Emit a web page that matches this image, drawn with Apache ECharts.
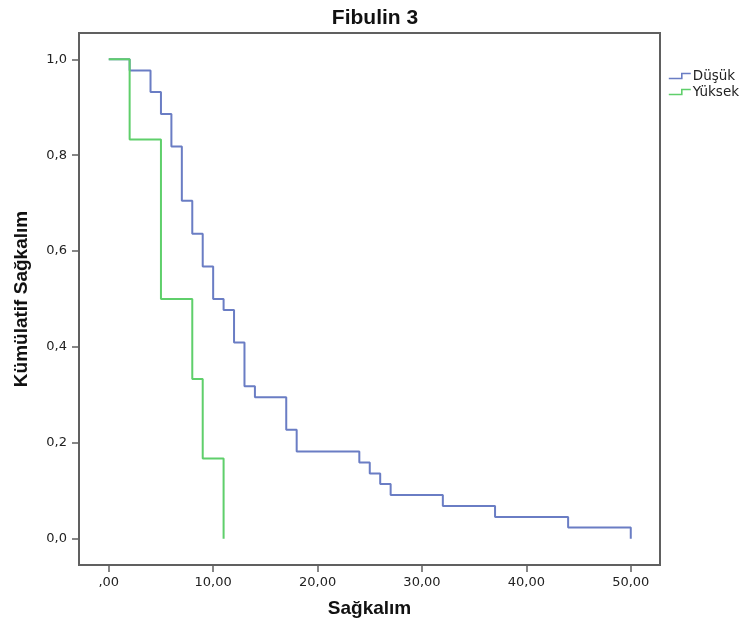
<!DOCTYPE html>
<html>
<head>
<meta charset="utf-8">
<script src="https://cdn.jsdelivr.net/npm/echarts@6/dist/echarts.min.js"></script>
<style>
html,body{margin:0;padding:0;background:#fff;}
#chart{width:746px;height:627px;}
</style>
</head>
<body>
<div id="chart"></div>
<script>
// ---- data ----
const titleText = 'Fibulin 3';
const xAxisName = 'Sağkalım';
const yAxisName = 'Kümülatif Sağkalım';
const seriesNames = ['Düşük', 'Yüksek'];

// Düşük group: Kaplan-Meier steps (time, cumulative survival)
const lowTimes = [0, 2, 4, 5, 6, 7, 8, 9, 10, 11, 12, 13, 14, 17, 18, 24, 25, 26, 27, 32, 37, 44, 50];
const lowSurv  = [1, 0.977, 0.932, 0.886, 0.818, 0.705, 0.636, 0.568, 0.5, 0.477, 0.409, 0.318, 0.295, 0.227, 0.182, 0.159, 0.136, 0.114, 0.091, 0.068, 0.045, 0.023, 0];

// Yüksek group
const highTimes = [0, 2, 5, 8, 9, 11];
const highSurv  = [1, 0.833, 0.5, 0.333, 0.167, 0];

// tick values and labels
const xTicks = [0, 10, 20, 30, 40, 50];
const xTickLabels = [',00', '10,00', '20,00', '30,00', '40,00', '50,00'];
const yTicks = [0, 0.2, 0.4, 0.6, 0.8, 1.0];
const yTickLabels = ['0,0', '0,2', '0,4', '0,6', '0,8', '1,0'];

// ---- chart ----
const blue = '#6a7dc4';
const green = '#5fcf6b';
const axisColor = '#606060';

function labelFor(ticks, labels, v) {
  for (let i = 0; i < ticks.length; i++) {
    if (Math.abs(ticks[i] - v) < 1e-6) return labels[i];
  }
  return '';
}

const chart = echarts.init(document.getElementById('chart'), null, {renderer: 'canvas'});
const stepIcon = 'path://M0,5 L13,5 L13,0 L22,0';

chart.setOption({
  animation: false,
  backgroundColor: '#ffffff',
  title: {
    text: titleText,
    left: 370,
    top: 3,
    textAlign: 'center',
    textStyle: {fontFamily: 'Liberation Sans', fontWeight: 'bold', fontSize: 21, color: '#111'}
  },
  legend: {
    orient: 'vertical',
    left: 663,
    top: 64,
    itemWidth: 22,
    itemHeight: 5,
    itemGap: 2,
    selectedMode: false,
    textStyle: {fontFamily: 'DejaVu Sans', fontSize: 13.5, color: '#222', lineHeight: 14, padding: [0, 0, 0, -3]},
    data: [
      {name: seriesNames[0], icon: stepIcon, itemStyle: {color: 'rgba(0,0,0,0)', borderColor: blue, borderWidth: 1.6}},
      {name: seriesNames[1], icon: stepIcon, itemStyle: {color: 'rgba(0,0,0,0)', borderColor: green, borderWidth: 1.6}}
    ]
  },
  grid: {
    left: 79, right: 86, top: 33, bottom: 62,
    show: true,
    borderColor: axisColor,
    borderWidth: 2,
    containLabel: false
  },
  xAxis: {
    type: 'value',
    min: -2.85,
    max: 52.8,
    name: xAxisName,
    nameLocation: 'middle',
    nameGap: 34,
    nameTextStyle: {fontFamily: 'Liberation Sans', fontWeight: 'bold', fontSize: 19, color: '#111'},
    axisLine: {show: true, onZero: false, lineStyle: {color: axisColor, width: 2}},
    axisTick: {show: true, inside: false, length: 7, customValues: xTicks, lineStyle: {color: axisColor, width: 1.5}},
    axisLabel: {
      show: true, margin: 11, customValues: xTicks,
      fontFamily: 'DejaVu Sans', fontSize: 13, color: '#222',
      formatter: v => labelFor(xTicks, xTickLabels, v)
    },
    splitLine: {show: false}
  },
  yAxis: {
    type: 'value',
    min: -0.055,
    max: 1.055,
    name: yAxisName,
    nameLocation: 'middle',
    nameGap: 48,
    nameRotate: 90,
    nameTextStyle: {fontFamily: 'Liberation Sans', fontWeight: 'bold', fontSize: 19, color: '#111'},
    axisLine: {show: true, onZero: false, lineStyle: {color: axisColor, width: 2}},
    axisTick: {show: true, inside: false, length: 7, customValues: yTicks, lineStyle: {color: axisColor, width: 1.5}},
    axisLabel: {
      show: true, margin: 12, customValues: yTicks,
      fontFamily: 'DejaVu Sans', fontSize: 13, color: '#222',
      formatter: v => labelFor(yTicks, yTickLabels, v)
    },
    splitLine: {show: false}
  },
  series: [
    {
      name: seriesNames[0],
      type: 'line',
      step: 'end',
      showSymbol: false,
      symbol: 'none',
      color: blue,
      lineStyle: {color: blue, width: 2},
      data: lowTimes.map((t, i) => [t, lowSurv[i]]),
      z: 2
    },
    {
      name: seriesNames[1],
      type: 'line',
      step: 'end',
      showSymbol: false,
      symbol: 'none',
      color: green,
      lineStyle: {color: green, width: 2},
      data: highTimes.map((t, i) => [t, highSurv[i]]),
      z: 3
    }
  ]
});
</script>
</body>
</html>
